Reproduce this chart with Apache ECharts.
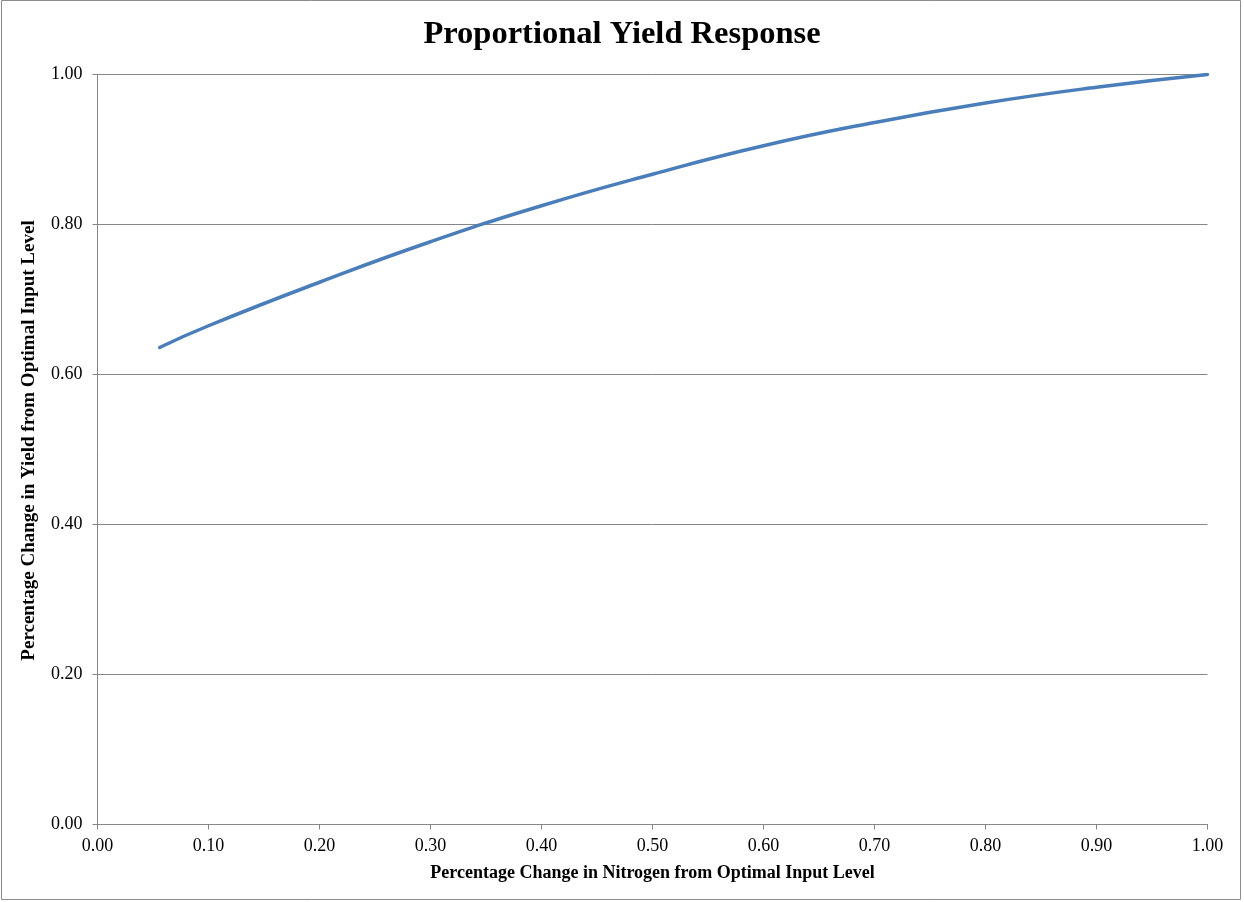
<!DOCTYPE html>
<html>
<head>
<meta charset="utf-8">
<title>Proportional Yield Response</title>
<script src="https://cdn.jsdelivr.net/npm/echarts@6/dist/echarts.min.js"></script>
<style>
  html, body { margin: 0; padding: 0; background: #ffffff; }
  #chart { width: 1244px; height: 902px; }
</style>
</head>
<body>
<div id="chart"></div>
<script>
// Nitrogen input as a share of the optimal level, and the matching share of yield
const nitrogenShare = [0.056, 0.10, 0.20, 0.30, 0.40, 0.50, 0.60, 0.70, 0.80, 0.90, 1.00];
const yieldShare    = [0.636, 0.665, 0.723, 0.777, 0.825, 0.867, 0.905, 0.936, 0.962, 0.983, 1.000];

const titleText = 'Proportional Yield Response';
const xAxisTitle = 'Percentage Change in Nitrogen from Optimal Input Level';
const yAxisTitle = 'Percentage Change in Yield from Optimal Input Level';

const serif = '"Liberation Serif", "Times New Roman", serif';
const axisGrey = '#868686';

const chart = echarts.init(document.getElementById('chart'), null, { renderer: 'canvas' });

chart.setOption({
  backgroundColor: '#ffffff',
  animation: false,
  title: {
    text: titleText,
    left: 'center',
    top: 13,
    textStyle: { fontFamily: serif, fontSize: 32.5, fontWeight: 'bold', color: '#000000' }
  },
  graphic: [{
    type: 'rect',
    shape: { x: 1.5, y: 0.5, width: 1239, height: 899 },
    style: { fill: 'none', stroke: '#8c8c8c', lineWidth: 1 },
    silent: true
  }],
  grid: { left: 97.5, right: 36.5, top: 74.5, bottom: 77.5 },
  xAxis: {
    type: 'value',
    min: 0, max: 1, interval: 0.1,
    name: xAxisTitle,
    nameLocation: 'middle',
    nameGap: 40,
    nameTextStyle: { fontFamily: serif, fontSize: 18, fontWeight: 'bold', color: '#000000' },
    axisLine: { show: true, lineStyle: { color: axisGrey, width: 1 } },
    axisTick: { show: true, length: 5, lineStyle: { color: axisGrey } },
    axisLabel: {
      fontFamily: serif, fontSize: 18, color: '#000000', margin: 13,
      formatter: v => v.toFixed(2)
    },
    splitLine: { show: false }
  },
  yAxis: {
    type: 'value',
    min: 0, max: 1, interval: 0.2,
    name: yAxisTitle,
    nameLocation: 'middle',
    nameGap: 59,
    nameRotate: 90,
    nameTextStyle: {
      fontFamily: serif, fontSize: 19, fontWeight: 'bold', color: '#000000',
      padding: [0, 0, 0, 18]
    },
    axisLine: { show: true, lineStyle: { color: axisGrey, width: 1 } },
    axisTick: { show: true, length: 5, lineStyle: { color: axisGrey } },
    axisLabel: {
      fontFamily: serif, fontSize: 18, color: '#000000', margin: 15,
      formatter: v => v.toFixed(2)
    },
    splitLine: { show: true, lineStyle: { color: axisGrey, width: 1 } }
  },
  series: [{
    type: 'line',
    data: nitrogenShare.map((x, i) => [x, yieldShare[i]]),
    smooth: true,
    showSymbol: false,
    lineStyle: { color: '#4a7ebb', width: 3.5, cap: 'round' },
    itemStyle: { color: '#4a7ebb' }
  }]
});
</script>
</body>
</html>
